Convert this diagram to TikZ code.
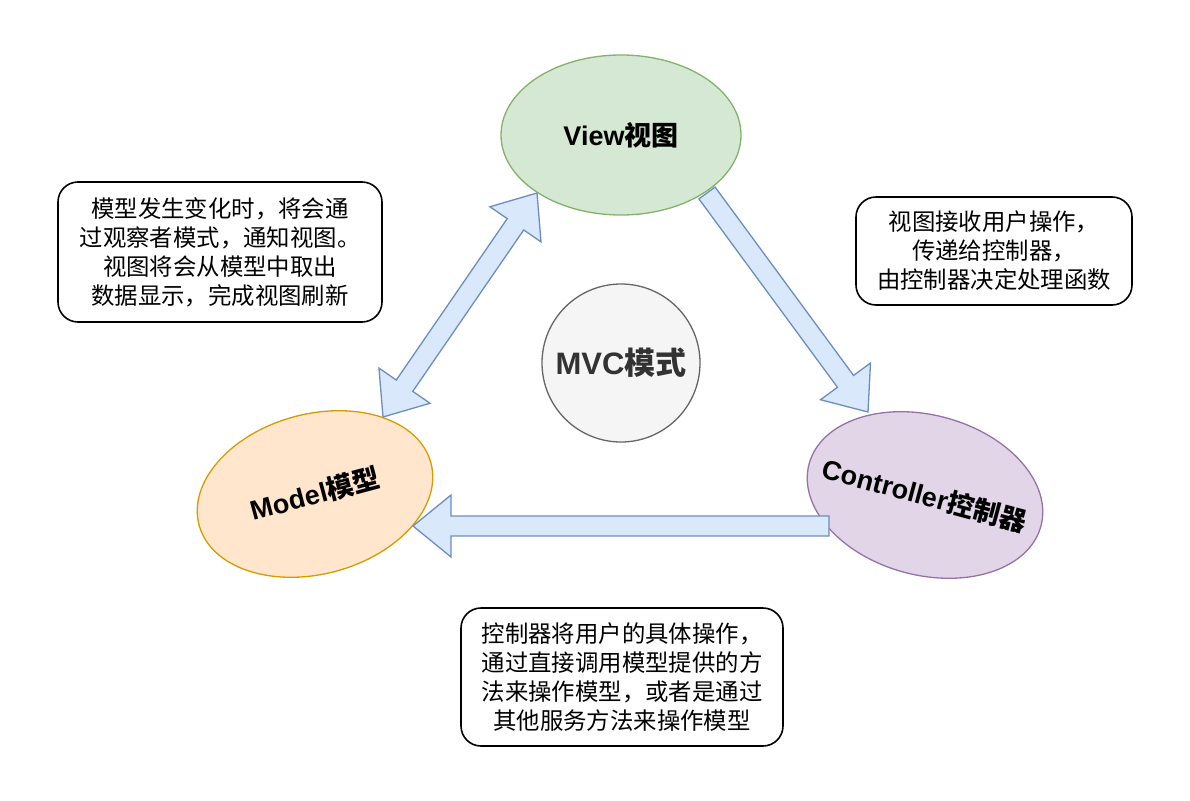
\documentclass[tikz,border=0pt]{standalone}
\usepackage{fontspec}
\setmainfont{Liberation Sans}
\newfontfamily\cjk{Noto Sans CJK SC}
\usetikzlibrary{shapes.geometric,calc}

\definecolor{viewfill}{HTML}{D5E8D4}
\definecolor{viewline}{HTML}{82B366}
\definecolor{modelfill}{HTML}{FFE6CC}
\definecolor{modelline}{HTML}{D79B00}
\definecolor{ctrlfill}{HTML}{E1D5E7}
\definecolor{ctrlline}{HTML}{9673A6}
\definecolor{hubfill}{HTML}{F5F5F5}
\definecolor{hubline}{HTML}{666666}
\definecolor{hubtext}{HTML}{333333}
\definecolor{flowfill}{HTML}{DAE8FC}
\definecolor{flowline}{HTML}{6C8EBF}

\tikzset{
	part/.style={ellipse, line width=1.3pt, minimum width=240pt, minimum height=160pt, inner sep=0pt, font=\bfseries\fontsize{27}{32}\selectfont},
	note/.style={draw, line width=1.6pt, rounded corners=20pt, align=center, font=\cjk\fontsize{23.4}{29}\selectfont},
	flow/.style={draw=flowline, fill=flowfill, line width=1.3pt, line join=miter},
}

% block arrow from #1 (tail) to #2 (tip)
\newcommand{\flowarrow}[2]{%
	\draw[flow] ($(#1)!10pt!90:(#2)$)
		-- ($(#2)!38pt!(#1)!10pt!-90:(#1)$)
		-- ($(#2)!38pt!(#1)!31pt!-90:(#1)$)
		-- (#2)
		-- ($(#2)!38pt!(#1)!31pt!90:(#1)$)
		-- ($(#2)!38pt!(#1)!10pt!90:(#1)$)
		-- ($(#1)!10pt!-90:(#2)$) -- cycle;}

\begin{document}
\begin{tikzpicture}[x=1pt,y=1pt]
		\useasboundingbox (0,0) rectangle (1190,-800);

		\node [part, fill=viewfill, draw=viewline] (View) at (621,-135) {\makebox[0pt]{View{\cjk 视图}}};
		\node [part, fill=modelfill, draw=modelline, rotate=15] (Model) at (315,-494) {\makebox[0pt]{Model{\cjk 模型}}};
		\node [part, fill=ctrlfill, draw=ctrlline, rotate=-15] (Controller) at (925,-495) {\makebox[0pt]{Controller{\cjk 控制器}}};
		\node [circle, fill=hubfill, draw=hubline, line width=1.3pt, minimum size=158pt, inner sep=0pt, text=hubtext, font=\bfseries\fontsize{31}{36}\selectfont] (Hub) at (621,-363) {\makebox[0pt]{MVC{\cjk 模式}}};

		\node [note, minimum width=324pt, minimum height=140pt] (NotifyNote) at (220,-252) {模型发生变化时，将会通\\过观察者模式，通知视图。\\视图将会从模型中取出\\数据显示，完成视图刷新};
		\node [note, minimum width=276pt, minimum height=108pt] (InputNote) at (994,-251) {视图接收用户操作，\\传递给控制器，\\由控制器决定处理函数};
		\node [note, minimum width=322pt, minimum height=138pt] (UpdateNote) at (622,-677) {控制器将用户的具体操作，\\通过直接调用模型提供的方\\法来操作模型，或者是通过\\其他服务方法来操作模型};

		\coordinate (ModelEnd) at (383,-417);
		\coordinate (ViewEnd) at (537,-193);
		\coordinate (ViewOut) at (707,-193);
		\coordinate (ControllerIn) at (868,-412);
		\coordinate (ControllerOut) at (829,-526);
		\coordinate (ModelIn) at (413,-526);

		% two-way arrow between model and view
		\draw [flow] (ModelEnd)
			-- ($(ModelEnd)!38pt!(ViewEnd)!31pt!90:(ViewEnd)$)
			-- ($(ModelEnd)!38pt!(ViewEnd)!10pt!90:(ViewEnd)$)
			-- ($(ViewEnd)!38pt!(ModelEnd)!10pt!-90:(ModelEnd)$)
			-- ($(ViewEnd)!38pt!(ModelEnd)!31pt!-90:(ModelEnd)$)
			-- (ViewEnd)
			-- ($(ViewEnd)!38pt!(ModelEnd)!31pt!90:(ModelEnd)$)
			-- ($(ViewEnd)!38pt!(ModelEnd)!10pt!90:(ModelEnd)$)
			-- ($(ModelEnd)!38pt!(ViewEnd)!10pt!-90:(ViewEnd)$)
			-- ($(ModelEnd)!38pt!(ViewEnd)!31pt!-90:(ViewEnd)$)
			-- cycle;

		\flowarrow{ViewOut}{ControllerIn}
		\flowarrow{ControllerOut}{ModelIn}
	\end{tikzpicture}
\end{document}
